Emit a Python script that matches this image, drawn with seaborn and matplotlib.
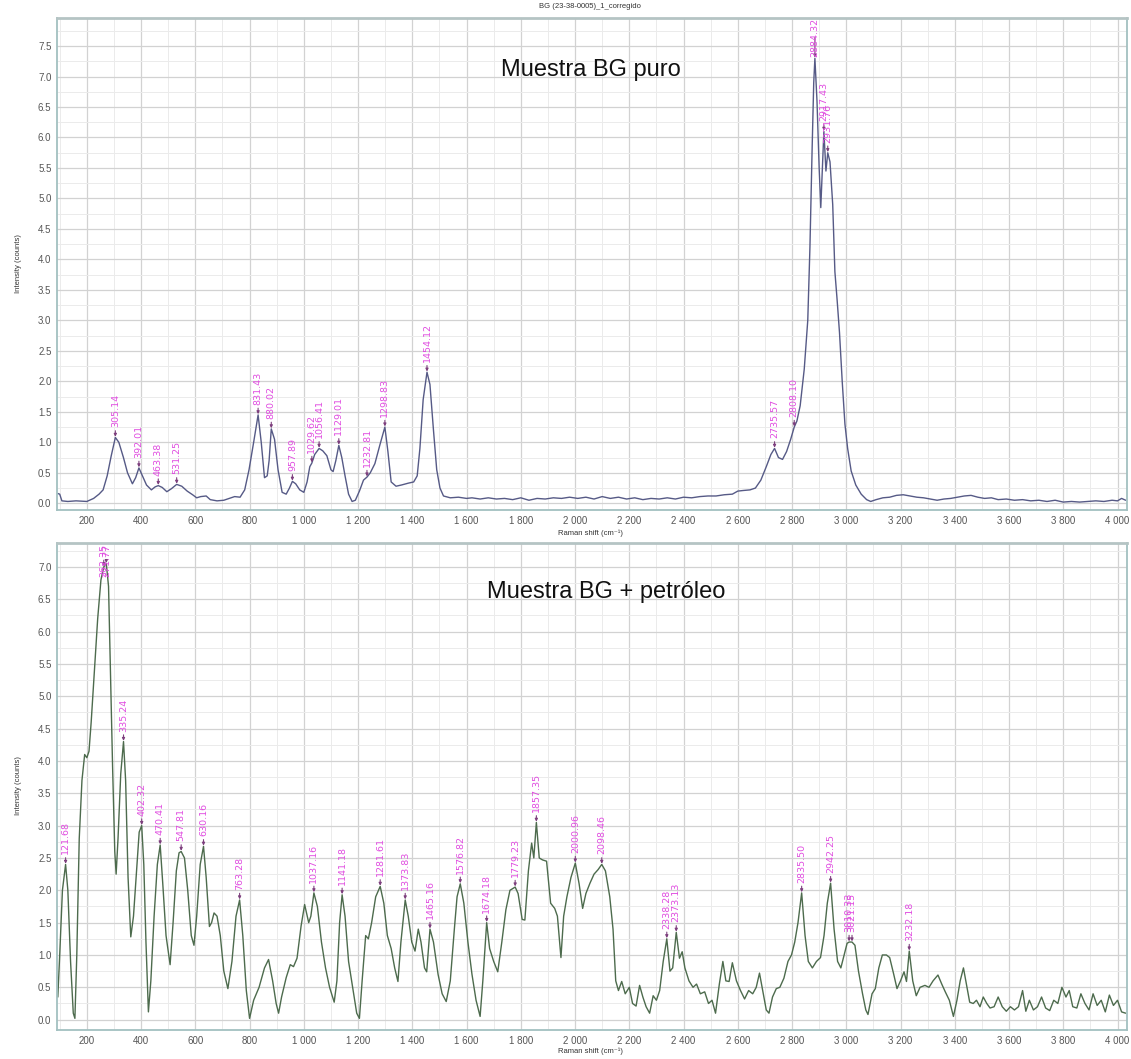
import matplotlib
matplotlib.use("Agg")
import numpy as np
import seaborn as sns
import matplotlib.pyplot as plt
from matplotlib.ticker import MultipleLocator, FuncFormatter

# ---------------- data ----------------
# Raman spectrum of the pure BG sample: (shift cm-1, intensity)
top_points = [
    (93, 0.16), (100, 0.15), (108, 0.04), (130, 0.03), (160, 0.04), (200, 0.03), (225, 0.08),
    (245, 0.15), (260, 0.22), (275, 0.45), (290, 0.78), (305.14, 1.08), (318, 1.00), (335, 0.75),
    (350, 0.50), (368, 0.32), (380, 0.42), (392.01, 0.58), (405, 0.45), (420, 0.30), (438, 0.22),
    (452, 0.27), (463.38, 0.29), (478, 0.26), (495, 0.19), (512, 0.24), (531.25, 0.31),
    (550, 0.28), (570, 0.20), (590, 0.14), (605, 0.09), (620, 0.11), (640, 0.12), (655, 0.06),
    (680, 0.04), (705, 0.05), (725, 0.08), (745, 0.11), (765, 0.10), (782, 0.22), (798, 0.55),
    (815, 1.00), (831.43, 1.45), (843, 1.00), (855, 0.42), (865, 0.45), (872, 0.70),
    (880.02, 1.22), (892, 1.05), (905, 0.55), (920, 0.18), (935, 0.15), (947, 0.25),
    (957.89, 0.36), (970, 0.32), (985, 0.22), (1000, 0.18), (1012, 0.35), (1022, 0.60),
    (1029.62, 0.66), (1040, 0.80), (1056.41, 0.90), (1070, 0.86), (1085, 0.78), (1100, 0.55),
    (1108, 0.52), (1118, 0.70), (1129.01, 0.95), (1140, 0.75), (1152, 0.45), (1165, 0.15),
    (1178, 0.03), (1190, 0.05), (1205, 0.20), (1220, 0.38), (1232.81, 0.43), (1245, 0.50),
    (1262, 0.65), (1280, 0.95), (1298.83, 1.25), (1310, 0.85), (1322, 0.35), (1340, 0.28),
    (1360, 0.30), (1385, 0.33), (1405, 0.35), (1418, 0.45), (1428, 0.90), (1440, 1.70),
    (1454.12, 2.15), (1465, 1.95), (1478, 1.20), (1490, 0.55), (1502, 0.25), (1515, 0.12),
    (1540, 0.09), (1570, 0.10), (1600, 0.08), (1620, 0.09), (1650, 0.07), (1680, 0.09),
    (1710, 0.07), (1740, 0.08), (1770, 0.06), (1800, 0.09), (1830, 0.05), (1860, 0.08),
    (1890, 0.07), (1920, 0.09), (1950, 0.08), (1980, 0.10), (2010, 0.08), (2040, 0.10),
    (2070, 0.07), (2100, 0.11), (2130, 0.08), (2160, 0.10), (2190, 0.07), (2220, 0.09),
    (2250, 0.06), (2280, 0.08), (2310, 0.07), (2340, 0.09), (2370, 0.07), (2400, 0.10),
    (2430, 0.09), (2460, 0.11), (2490, 0.12), (2520, 0.12), (2550, 0.14), (2580, 0.15),
    (2600, 0.20), (2620, 0.21), (2645, 0.22), (2665, 0.25), (2685, 0.38), (2705, 0.60),
    (2722, 0.80), (2735.57, 0.90), (2750, 0.75), (2765, 0.72), (2780, 0.85), (2795, 1.05),
    (2808.10, 1.25), (2818, 1.35), (2830, 1.60), (2845, 2.20), (2858, 3.00), (2866, 4.20),
    (2874, 5.80), (2880, 6.90), (2884.32, 7.30), (2892, 6.60), (2900, 5.50), (2906, 4.85),
    (2912, 5.50), (2917.43, 6.10), (2925, 5.45), (2931.76, 5.75), (2940, 5.60), (2950, 4.90),
    (2958, 3.80), (2966, 3.35), (2975, 2.80), (2985, 2.00), (2995, 1.30), (3005, 0.90),
    (3018, 0.53), (3035, 0.30), (3055, 0.15), (3075, 0.06), (3090, 0.03), (3110, 0.06),
    (3135, 0.09), (3160, 0.10), (3185, 0.13), (3210, 0.14), (3235, 0.12), (3260, 0.10),
    (3285, 0.09), (3310, 0.07), (3335, 0.05), (3360, 0.07), (3385, 0.08), (3410, 0.10),
    (3435, 0.12), (3460, 0.13), (3485, 0.10), (3510, 0.08), (3535, 0.09), (3560, 0.06),
    (3590, 0.07), (3620, 0.05), (3650, 0.06), (3680, 0.04), (3710, 0.05), (3740, 0.03),
    (3770, 0.05), (3800, 0.02), (3830, 0.03), (3860, 0.02), (3890, 0.03), (3920, 0.04),
    (3950, 0.03), (3980, 0.05), (4000, 0.04), (4015, 0.08), (4030, 0.05),
]

# Raman spectrum of the BG sample with crude oil: (shift cm-1, intensity)
bottom_points = [
    (93, 0.35), (100, 1.00), (110, 2.00), (121.68, 2.40), (130, 2.00), (140, 0.90), (150, 0.10),
    (156, 0.02), (163, 1.00), (172, 2.80), (182, 3.70), (192, 4.10), (200, 4.05), (208, 4.15),
    (216, 4.60), (228, 5.40), (240, 6.20), (252, 6.80), (262.35, 7.00), (271.77, 7.05),
    (280, 6.70), (287, 5.40), (295, 3.90), (303, 2.60), (308, 2.25), (315, 2.80), (325, 3.80),
    (335.24, 4.30), (343, 3.70), (352, 2.20), (362, 1.28), (372, 1.60), (385, 2.40), (393, 2.90),
    (402.32, 3.00), (410, 2.40), (418, 1.20), (427, 0.12), (436, 0.60), (448, 1.60), (460, 2.40),
    (470.41, 2.70), (480, 2.10), (492, 1.30), (507, 0.85), (518, 1.50), (530, 2.30), (540, 2.58),
    (547.81, 2.60), (560, 2.50), (572, 2.00), (585, 1.30), (595, 1.15), (605, 1.60), (618, 2.40),
    (630.16, 2.68), (640, 2.20), (652, 1.44), (660, 1.50), (669, 1.65), (680, 1.60), (692, 1.30),
    (705, 0.75), (720, 0.48), (735, 0.90), (750, 1.60), (763.28, 1.85), (775, 1.30), (788, 0.45),
    (800, 0.02), (815, 0.30), (835, 0.50), (855, 0.80), (870, 0.93), (885, 0.60), (898, 0.25),
    (907, 0.10), (918, 0.35), (935, 0.65), (950, 0.85), (962, 0.82), (975, 0.95), (990, 1.45),
    (1003, 1.78), (1018, 1.50), (1026, 1.60), (1037.16, 1.96), (1050, 1.75), (1065, 1.20),
    (1080, 0.80), (1095, 0.50), (1112, 0.27), (1122, 0.60), (1132, 1.50), (1141.18, 1.93),
    (1152, 1.60), (1165, 0.90), (1180, 0.50), (1195, 0.10), (1205, 0.02), (1215, 0.60),
    (1228, 1.30), (1238, 1.25), (1250, 1.50), (1265, 1.90), (1281.61, 2.06), (1295, 1.80),
    (1308, 1.30), (1322, 1.10), (1335, 0.80), (1347, 0.59), (1358, 1.20), (1373.83, 1.85),
    (1385, 1.60), (1398, 1.20), (1410, 1.06), (1422, 1.40), (1432, 1.20), (1445, 0.80),
    (1453, 0.74), (1465.16, 1.40), (1478, 1.20), (1495, 0.70), (1510, 0.40), (1525, 0.28),
    (1540, 0.60), (1555, 1.40), (1565, 1.90), (1576.82, 2.10), (1590, 1.80), (1605, 1.20),
    (1620, 0.70), (1635, 0.30), (1650, 0.05), (1660, 0.60), (1674.18, 1.50), (1685, 1.10),
    (1700, 0.90), (1715, 0.74), (1730, 1.20), (1745, 1.70), (1760, 2.00), (1779.23, 2.05),
    (1790, 1.95), (1805, 1.55), (1815, 1.54), (1828, 2.30), (1840, 2.73), (1848, 2.50),
    (1857.35, 3.05), (1868, 2.50), (1880, 2.47), (1895, 2.45), (1910, 1.80), (1925, 1.72),
    (1935, 1.60), (1948, 0.96), (1958, 1.60), (1970, 1.90), (1985, 2.20), (2000.96, 2.42),
    (2015, 2.10), (2028, 1.72), (2040, 1.95), (2055, 2.11), (2070, 2.25), (2085, 2.32),
    (2098.46, 2.40), (2112, 2.30), (2128, 1.90), (2140, 1.40), (2150, 0.60), (2160, 0.45),
    (2172, 0.59), (2185, 0.40), (2200, 0.50), (2212, 0.25), (2225, 0.21), (2238, 0.53),
    (2250, 0.35), (2262, 0.20), (2275, 0.10), (2288, 0.37), (2300, 0.30), (2312, 0.45),
    (2325, 0.90), (2338.28, 1.25), (2350, 0.75), (2360, 0.80), (2373.13, 1.35), (2385, 0.95),
    (2395, 1.05), (2405, 0.80), (2420, 0.60), (2435, 0.50), (2448, 0.55), (2462, 0.40),
    (2478, 0.43), (2492, 0.25), (2505, 0.30), (2518, 0.10), (2532, 0.55), (2545, 0.90),
    (2556, 0.60), (2568, 0.59), (2580, 0.88), (2595, 0.60), (2610, 0.45), (2625, 0.32),
    (2640, 0.45), (2655, 0.40), (2668, 0.50), (2680, 0.72), (2692, 0.45), (2705, 0.15),
    (2715, 0.10), (2728, 0.35), (2742, 0.48), (2755, 0.50), (2770, 0.64), (2785, 0.90),
    (2798, 1.00), (2810, 1.20), (2822, 1.50), (2835.50, 1.96), (2848, 1.30), (2860, 0.90),
    (2875, 0.80), (2890, 0.90), (2905, 0.96), (2918, 1.30), (2930, 1.80), (2942.25, 2.11),
    (2955, 1.40), (2968, 0.90), (2980, 0.80), (2992, 1.00), (3003, 1.18), (3010.33, 1.20),
    (3021.15, 1.20), (3032, 1.15), (3045, 0.75), (3060, 0.40), (3072, 0.15), (3080, 0.08),
    (3095, 0.40), (3107, 0.48), (3120, 0.80), (3133, 1.00), (3148, 1.00), (3160, 0.96),
    (3175, 0.70), (3187, 0.48), (3200, 0.60), (3213, 0.74), (3222, 0.59), (3232.18, 1.06),
    (3245, 0.60), (3258, 0.37), (3272, 0.50), (3290, 0.53), (3305, 0.50), (3320, 0.60),
    (3338, 0.69), (3352, 0.55), (3365, 0.43), (3380, 0.30), (3395, 0.05), (3408, 0.30),
    (3420, 0.60), (3432, 0.80), (3445, 0.50), (3455, 0.27), (3468, 0.25), (3480, 0.30),
    (3493, 0.20), (3505, 0.35), (3518, 0.25), (3530, 0.18), (3545, 0.20), (3560, 0.35),
    (3575, 0.20), (3590, 0.13), (3605, 0.20), (3620, 0.15), (3635, 0.20), (3650, 0.45),
    (3662, 0.13), (3675, 0.30), (3690, 0.15), (3705, 0.20), (3720, 0.35), (3735, 0.18),
    (3750, 0.14), (3765, 0.30), (3780, 0.25), (3795, 0.50), (3810, 0.35), (3822, 0.45),
    (3835, 0.20), (3850, 0.18), (3865, 0.40), (3880, 0.25), (3895, 0.15), (3910, 0.40),
    (3925, 0.22), (3940, 0.30), (3955, 0.12), (3970, 0.38), (3985, 0.22), (4000, 0.30),
    (4015, 0.12), (4030, 0.10),
]

# Peak annotations (Raman shift, cm-1)
top_peaks = ["305.14", "392.01", "463.38", "531.25", "831.43", "880.02", "957.89", "1029.62",
             "1056.41", "1129.01", "1232.81", "1298.83", "1454.12", "2735.57", "2808.10",
             "2884.32", "2917.43", "2931.76"]
bottom_peaks = ["121.68", "262.35", "271.77", "335.24", "402.32", "470.41", "547.81", "630.16",
                "763.28", "1037.16", "1141.18", "1281.61", "1373.83", "1465.16", "1576.82",
                "1674.18", "1779.23", "1857.35", "2000.96", "2098.46", "2338.28", "2373.13",
                "2835.50", "2942.25", "3010.33", "3021.15", "3232.18"]

panel_titles = ["Muestra BG puro", "Muestra BG + petróleo"]
file_title = "BG (23-38-0005)_1_corregido"
x_label = "Raman shift (cm\u207b\u00b9)"
y_label = "Intensity (counts)"

top_shift = [p[0] for p in top_points]
top_counts = [p[1] for p in top_points]
bottom_shift = [p[0] for p in bottom_points]
bottom_counts = [p[1] for p in bottom_points]

# ---------------- style ----------------
sns.set_theme(style="white")
plt.rcParams["font.family"] = ["Liberation Sans", "DejaVu Sans"]

W, H = 1131, 1059
fig = plt.figure(figsize=(W / 100, H / 100), dpi=100)
fig.patch.set_facecolor("white")


def frac_axes(x0, y0, x1, y1):
    return fig.add_axes([x0 / W, 1 - y1 / H, (x1 - x0) / W, (y1 - y0) / H])


ax_top = frac_axes(57, 18, 1127, 510)
ax_bot = frac_axes(57, 543, 1127, 1030)

PEAK_COLOR = "#e04ce0"
ARROW_COLOR = "#7d3f7d"
LABEL_FS = 6.8


def thousands(v, _pos):
    v = int(round(v))
    return f"{v:,}".replace(",", " ")


def style_axes(ax, ylim):
    ax.set_xlim(90, 4035)
    ax.set_ylim(*ylim)
    ax.set_facecolor("white")
    ax.xaxis.set_major_locator(MultipleLocator(200))
    ax.xaxis.set_minor_locator(MultipleLocator(100))
    ax.yaxis.set_major_locator(MultipleLocator(0.5))
    ax.yaxis.set_minor_locator(MultipleLocator(0.25))
    ax.xaxis.set_major_formatter(FuncFormatter(thousands))
    ax.yaxis.set_major_formatter(FuncFormatter(lambda v, p: f"{v:.1f}"))
    ax.grid(which="major", color="#d2d2d2", lw=0.9)
    ax.grid(which="minor", color="#ebebeb", lw=0.7)
    ax.set_axisbelow(True)
    for s in ax.spines.values():
        s.set_color("#a3c0c0")
        s.set_linewidth(1.3)
    ax.spines["top"].set_color("#b5c4c4")
    ax.spines["top"].set_linewidth(2.0)
    ax.tick_params(axis="both", which="major", labelsize=7, colors="#555555",
                   length=3, width=0.7, direction="out")
    ax.tick_params(axis="both", which="minor", length=0)
    ax.tick_params(axis="x", pad=1.5)
    ax.tick_params(axis="y", pad=1)


def annotate_peaks(ax, shifts, counts, labels):
    y0, y1 = ax.get_ylim()
    ax_h_px = ax.get_position().height * H
    px_per_unit = ax_h_px / (y1 - y0)
    for lab in labels:
        xv = float(lab)
        yv = float(np.interp(xv, shifts, counts))
        text_len = len(lab) * 0.56 * LABEL_FS * 100 / 72 / px_per_unit
        gap = 10 / px_per_unit
        ty = min(yv + gap, y1 - text_len - 2 / px_per_unit)
        ax.annotate(lab, xy=(xv, yv), xytext=(xv, ty), textcoords="data",
                    rotation=90, ha="center", va="bottom", fontsize=LABEL_FS,
                    color=PEAK_COLOR, family="DejaVu Sans",
                    arrowprops=dict(arrowstyle="-|>", color=ARROW_COLOR, lw=0.8,
                                    mutation_scale=4, shrinkA=0, shrinkB=0.5))


# ---------------- top panel ----------------
style_axes(ax_top, (-0.11, 7.96))
sns.lineplot(x=top_shift, y=top_counts, ax=ax_top, color="#565a86", lw=1.0,
             sort=False, estimator=None)
ax_top.set_xlabel("")
ax_top.set_ylabel("")
annotate_peaks(ax_top, top_shift, top_counts, top_peaks)

# ---------------- bottom panel ----------------
style_axes(ax_bot, (-0.16, 7.37))
sns.lineplot(x=bottom_shift, y=bottom_counts, ax=ax_bot, color="#4d6b4d", lw=1.0,
             sort=False, estimator=None)
ax_bot.set_xlabel("")
ax_bot.set_ylabel("")
annotate_peaks(ax_bot, bottom_shift, bottom_counts, bottom_peaks)

# ---------------- texts ----------------
fig.text(590 / W, 1 - 7 / H, file_title, ha="center", va="center", fontsize=5.5,
         color="#333333")
fig.text(591 / W, 1 - 70 / H, panel_titles[0], ha="center", va="center", fontsize=17,
         color="#111111")
fig.text(606 / W, 1 - 592 / H, panel_titles[1], ha="center", va="center", fontsize=17,
         color="#111111")
for cy in (264, 786):
    fig.text(18 / W, 1 - cy / H, y_label, rotation=90, ha="center", va="center",
             fontsize=5.5, color="#333333")
for cy in (533, 1051):
    fig.text(590 / W, 1 - cy / H, x_label, ha="center", va="center", fontsize=5.5,
             color="#333333")

fig.savefig("out.png", dpi=100, facecolor="white")
